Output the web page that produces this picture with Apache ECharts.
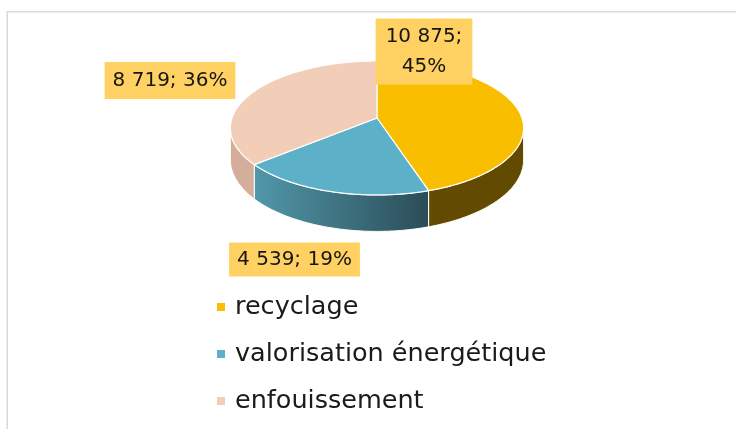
<!DOCTYPE html>
<html>
<head>
<meta charset="utf-8">
<script src="https://cdn.jsdelivr.net/npm/echarts@6/dist/echarts.min.js"></script>
<style>
	html, body { margin: 0; padding: 0; background: #fff; }
	#main { width: 736px; height: 429px; }
</style>
</head>
<body>
<div id="main"></div>
<script>
// data
const categories = ['recyclage', 'valorisation énergétique', 'enfouissement']
const tonnes = [10875, 4539, 8719]

// colours: top face, side face (blue side is a gradient)
const topColors = ['#FABE00', '#5CB1C8', '#F2CDB8']
const sideColors = ['#624B00', ['#5198AA', '#2B4C57'], '#D5AE9B']

// where Excel put the data labels (box centres)
const labelBoxes = [
	{ x: 424, y: 51.5, padding: [3, 10], lineHeight: 30, wrap: true },
	{ x: 294.5, y: 259.5, padding: [5, 8], lineHeight: 24 },
	{ x: 170, y: 80.5, padding: [6, 8], lineHeight: 25 },
]

const total = tonnes.reduce((s, v) => s + v, 0)
const starts = []
let acc = 0
tonnes.forEach(v => { starts.push(acc / total * 360); acc += v })

const fmt = n => String(n).replace(/\B(?=(\d{3})+(?!\d))/g, ' ')
const pct = v => Math.round(v / total * 100) + '%'

// tilted pie with a bit of perspective
const pie = { cx: 377, cy: 118, a: 145, b: 65.5, k: 0.149, depth: 31 }
const sideFrom = Math.acos(-pie.k) * 180 / Math.PI
const sideTo = 360 - sideFrom

function project(deg, drop) {
	const r = deg * Math.PI / 180
	const u = Math.sin(r), v = -Math.cos(r), w = 1 - pie.k * v
	return [pie.cx + pie.a * u / w, pie.cy + (pie.b * v + drop) / w]
}

function arc(from, to, drop) {
	const n = Math.max(2, Math.ceil(Math.abs(to - from)))
	const pts = []
	for (let i = 0; i <= n; i++) pts.push(project(from + (to - from) * i / n, drop))
	return pts
}

function sideFill(i) {
	const c = sideColors[i]
	if (!Array.isArray(c)) return c
	return { type: 'linear', x: 0, y: 0, x2: 1, y2: 0, colorStops: [{ offset: 0, color: c[0] }, { offset: 1, color: c[1] }] }
}

function renderSlice(i) {
	return function (params, api) {
		const s = starts[i]
		const e = s + api.value(0) / total * 360
		const children = []
		const v0 = Math.max(s, sideFrom), v1 = Math.min(e, sideTo)
		if (v1 > v0) {
			children.push({
				type: 'polygon',
				shape: { points: arc(v0, v1, 0).concat(arc(v1, v0, pie.depth)) },
				style: { fill: sideFill(i), stroke: '#fff', lineWidth: 1 },
			})
		}
		children.push({
			type: 'polygon',
			shape: { points: [[pie.cx, pie.cy]].concat(arc(s, e, 0)) },
			style: { fill: topColors[i], stroke: '#fff', lineWidth: 1.2 },
		})
		const lb = labelBoxes[i]
		const val = api.value(0)
		children.push({
			type: 'text',
			x: lb.x,
			y: lb.y,
			z2: 100,
			style: {
				text: fmt(val) + ';' + (lb.wrap ? '\n' : ' ') + pct(val),
				align: 'center',
				verticalAlign: 'middle',
				font: '20px "DejaVu Sans"',
				fill: '#161616',
				backgroundColor: '#FFD162',
				padding: lb.padding,
				lineHeight: lb.lineHeight,
			},
		})
		return { type: 'group', children }
	}
}

const chart = echarts.init(document.getElementById('main'), null, { renderer: 'canvas' })

const option = {
	animation: false,
	graphic: [{
		type: 'rect',
		silent: true,
		z: -1,
		shape: { x: 7.25, y: 11.75, width: 900, height: 600 },
		style: { fill: 'none', stroke: '#D9D9D9', lineWidth: 1.5 },
	}],
	legend: {
		orient: 'vertical',
		left: 217,
		top: 294,
		padding: 0,
		itemWidth: 8,
		itemHeight: 8,
		itemGap: 21,
		icon: 'rect',
		data: categories,
		textStyle: { fontFamily: 'DejaVu Sans', fontSize: 25.5, color: '#1a1a1a', lineHeight: 26, padding: [0, 0, 0, 5] },
	},
	series: categories.map((name, i) => ({
		type: 'custom',
		name,
		coordinateSystem: 'none',
		itemStyle: { color: topColors[i] },
		data: [tonnes[i]],
		renderItem: renderSlice(i),
	})),
}

chart.setOption(option)
</script>
</body>
</html>
